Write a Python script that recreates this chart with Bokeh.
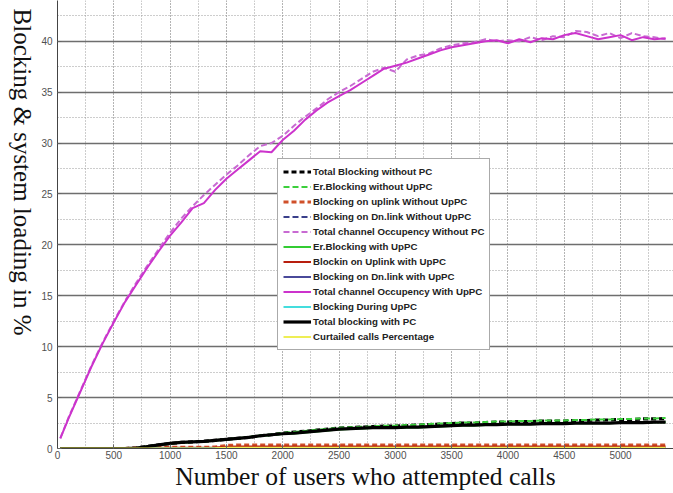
from bokeh.plotting import figure
from bokeh.layouts import row
from bokeh.models import Range1d, SingleIntervalTicker, Legend, LegendItem, Label
from bokeh.embed import file_html
from bokeh.resources import INLINE

users = [25, 100, 200, 300, 400, 500, 600, 700, 800, 900, 1000, 1100, 1200, 1300, 1400,
         1500, 1600, 1700, 1800, 1900, 2000, 2100, 2200, 2300, 2400, 2500, 2600, 2700,
         2800, 2900, 3000, 3100, 3200, 3300, 3400, 3500, 3600, 3700, 3800, 3900, 4000,
         4100, 4200, 4300, 4400, 4500, 4600, 4700, 4800, 4900, 5000, 5100, 5200, 5300, 5400]

occ_with = [1.0, 3.0, 5.5, 8.0, 10.3, 12.4, 14.4, 16.1, 17.8, 19.4, 20.9, 22.2, 23.6, 24.1,
            25.4, 26.5, 27.4, 28.3, 29.2, 29.1, 30.3, 31.2, 32.3, 33.2, 34.0, 34.6, 35.2,
            35.9, 36.6, 37.3, 37.6, 37.9, 38.3, 38.7, 39.1, 39.4, 39.6, 39.8, 40.0, 40.1,
            39.8, 40.2, 39.9, 40.3, 40.2, 40.6, 40.8, 40.5, 40.2, 40.4, 40.6, 40.1, 40.4,
            40.2, 40.3]
occ_without = [1.0, 3.1, 5.6, 8.1, 10.4, 12.5, 14.5, 16.3, 18.0, 19.6, 21.2, 22.6, 23.8,
               24.9, 25.9, 26.9, 27.8, 28.8, 29.7, 30.0, 30.7, 31.7, 32.6, 33.4, 34.3, 35.0,
               35.6, 36.3, 37.0, 37.4, 37.0, 38.2, 38.6, 38.8, 39.3, 39.6, 39.8, 39.9, 40.2,
               40.0, 40.1, 40.0, 40.4, 40.1, 40.5, 40.4, 41.0, 40.9, 40.5, 40.8, 40.3, 40.8,
               40.5, 40.4, 40.2]
total_with_pc = [0, 0, 0, 0, 0, 0, 0, 0.05, 0.2, 0.35, 0.5, 0.6, 0.65, 0.7, 0.8, 0.9, 1.0,
                 1.1, 1.25, 1.35, 1.45, 1.5, 1.6, 1.7, 1.8, 1.9, 1.95, 2.0, 2.05, 2.05, 2.05,
                 2.1, 2.1, 2.15, 2.2, 2.25, 2.3, 2.3, 2.35, 2.35, 2.4, 2.4, 2.4, 2.45, 2.45,
                 2.45, 2.5, 2.5, 2.5, 2.5, 2.55, 2.55, 2.55, 2.6, 2.6]
total_without_pc = [0, 0, 0, 0, 0, 0, 0, 0.05, 0.2, 0.35, 0.5, 0.6, 0.65, 0.7, 0.8, 0.9,
                    1.0, 1.1, 1.25, 1.35, 1.5, 1.6, 1.7, 1.8, 1.9, 2.0, 2.05, 2.1, 2.15, 2.2,
                    2.2, 2.25, 2.3, 2.35, 2.4, 2.45, 2.5, 2.5, 2.55, 2.6, 2.6, 2.65, 2.65,
                    2.7, 2.7, 2.7, 2.75, 2.75, 2.8, 2.8, 2.85, 2.85, 2.9, 2.9, 2.95]
er_without = [0, 0, 0, 0, 0, 0, 0, 0.05, 0.2, 0.35, 0.5, 0.6, 0.65, 0.72, 0.82, 0.92,
              1.02, 1.12, 1.28, 1.38, 1.52, 1.63, 1.73, 1.83, 1.93, 2.03, 2.08, 2.13, 2.18,
              2.23, 2.25, 2.3, 2.35, 2.4, 2.45, 2.5, 2.55, 2.55, 2.6, 2.65, 2.65, 2.7, 2.7,
              2.75, 2.75, 2.75, 2.8, 2.8, 2.85, 2.85, 2.9, 2.9, 2.95, 2.95, 3.0]
er_with = [0, 0, 0, 0, 0, 0, 0, 0.05, 0.18, 0.33, 0.48, 0.58, 0.63, 0.68, 0.78, 0.88, 0.98,
           1.08, 1.22, 1.32, 1.42, 1.47, 1.57, 1.67, 1.77, 1.87, 1.92, 1.97, 2.02, 2.02,
           2.02, 2.07, 2.07, 2.12, 2.17, 2.22, 2.27, 2.27, 2.32, 2.32, 2.37, 2.37, 2.37,
           2.42, 2.42, 2.42, 2.47, 2.47, 2.47, 2.47, 2.52, 2.52, 2.52, 2.57, 2.57]
up_without = [0, 0, 0, 0, 0, 0, 0, 0.05, 0.1, 0.12, 0.12, 0.12, 0.12, 0.12, 0.15, 0.3,
              0.35, 0.35, 0.35, 0.35, 0.35, 0.35, 0.35, 0.35, 0.35, 0.35, 0.35, 0.35, 0.35,
              0.35, 0.35, 0.35, 0.35, 0.35, 0.35, 0.35, 0.35, 0.35, 0.35, 0.35, 0.35, 0.35,
              0.35, 0.35, 0.35, 0.35, 0.35, 0.35, 0.35, 0.35, 0.35, 0.35, 0.35, 0.35, 0.35]
up_with = [0, 0, 0, 0, 0, 0, 0, 0, 0.05, 0.08, 0.08, 0.08, 0.08, 0.08, 0.1, 0.18, 0.2, 0.2,
           0.2, 0.2, 0.2, 0.2, 0.2, 0.2, 0.2, 0.2, 0.2, 0.2, 0.2, 0.2, 0.2, 0.2, 0.2, 0.2,
           0.2, 0.2, 0.2, 0.2, 0.2, 0.2, 0.2, 0.2, 0.2, 0.2, 0.2, 0.2, 0.2, 0.2, 0.2, 0.2,
           0.2, 0.2, 0.2, 0.2, 0.2]
dn_without = [0] * 55
dn_with = [0] * 55
during_uppc = [0] * 55
curtailed = [0, 0, 0, 0, 0, 0, 0, 0, 0, 0, 0, 0, 0, 0, 0.03, 0.08, 0.08, 0.08, 0.08, 0.08,
             0.08, 0.08, 0.08, 0.08, 0.08, 0.08, 0.08, 0.08, 0.08, 0.08, 0.08, 0.08, 0.08,
             0.08, 0.08, 0.08, 0.08, 0.08, 0.08, 0.08, 0.08, 0.08, 0.08, 0.08, 0.08, 0.08,
             0.08, 0.08, 0.08, 0.08, 0.08, 0.08, 0.08, 0.08, 0.08]

series = [
    ("Total Blocking without PC", total_without_pc, "#000000", "5 3", 3.2),
    ("Er.Blocking without UpPC", er_without, "#3ccf3c", "6 3", 2),
    ("Blocking on uplink Without UpPC", up_without, "#d0502a", "5 3", 3),
    ("Blocking on Dn.link Without UpPC", dn_without, "#3a3f8a", "6 3", 2),
    ("Total channel Occupency Without PC", occ_without, "#c86ad2", "6 3", 2),
    ("Er.Blocking with UpPC", er_with, "#33cc33", "solid", 2),
    ("Blockin on Uplink with UpPC", up_with, "#b81e0e", "solid", 2),
    ("Blocking on Dn.link with UpPC", dn_with, "#4a4a9a", "solid", 2),
    ("Total channel Occupency With UpPC", occ_with, "#cc33cc", "solid", 2),
    ("Blocking During UpPC", during_uppc, "#44dddd", "solid", 2),
    ("Total blocking with PC", total_with_pc, "#000000", "solid", 3.2),
    ("Curtailed calls Percentage", curtailed, "#eeee55", "solid", 2),
]

# ---- narrow side figure holding the y title (reads top to bottom)
side = figure(width=36, height=493, output_backend="svg", toolbar_location=None,
              x_range=Range1d(0, 1), y_range=Range1d(0, 1),
              x_axis_type=None, y_axis_type=None,
              min_border_left=0, min_border_right=0, min_border_top=0, min_border_bottom=0,
              background_fill_color="white", border_fill_color="white")
side.outline_line_color = None
side.xgrid.visible = False
side.ygrid.visible = False
side.add_layout(Label(x=0.62, y=0.617, text="Blocking & system loading in %",
                      angle=-90, angle_units="deg", text_align="center",
                      text_baseline="middle", text_font="Liberation Serif",
                      text_font_size="25px", text_color="#111111"))

# ---- main plot
p = figure(width=637, height=493, output_backend="svg", toolbar_location=None,
           x_range=Range1d(0, 5470), y_range=Range1d(0, 44.0),
           min_border_left=21, min_border_right=0, min_border_top=0, min_border_bottom=44,
           background_fill_color="white", border_fill_color="white")
p.outline_line_color = None

renderers = []
for label, vals, color, dash, w in series:
    r = p.line(users, vals, line_color=color, line_width=w, line_dash=dash)
    renderers.append((label, r))

xticker = SingleIntervalTicker(interval=500, num_minor_ticks=2)
yticker = SingleIntervalTicker(interval=5, num_minor_ticks=2)
p.xaxis.ticker = xticker
p.yaxis.ticker = yticker
p.xgrid.ticker = xticker
p.ygrid.ticker = yticker
for ax in (p.xaxis[0], p.yaxis[0]):
    ax.major_label_text_font = "Liberation Sans"
    ax.major_label_text_font_size = "10px"
    ax.major_label_text_color = "#505050"
    ax.axis_line_color = "#444444"
    ax.major_tick_in = 4
    ax.major_tick_out = 0
    ax.minor_tick_in = 0
    ax.minor_tick_out = 0
    ax.major_tick_line_color = "#666666"
p.yaxis.major_label_standoff = 5
p.xaxis.major_label_standoff = 2

p.xaxis.axis_label = "Number of users who attempted calls"
p.xaxis.axis_label_text_font = "Liberation Serif"
p.xaxis.axis_label_text_font_style = "normal"
p.xaxis.axis_label_text_font_size = "25.5px"
p.xaxis.axis_label_text_color = "#111111"
p.xaxis.axis_label_standoff = 0

p.ygrid.grid_line_color = "#6e6e6e"
p.ygrid.grid_line_width = 1.5
p.ygrid.minor_grid_line_color = "#9a9a9a"
p.ygrid.minor_grid_line_dash = "1 2"
p.xgrid.grid_line_color = "#9a9a9a"
p.xgrid.grid_line_dash = "1 2"
p.xgrid.minor_grid_line_color = "#9a9a9a"
p.xgrid.minor_grid_line_dash = "1 2"

legend = Legend(items=[LegendItem(label=l, renderers=[r]) for l, r in renderers],
                location=(220, 98))
legend.label_text_font = "Liberation Sans"
legend.label_text_font_style = "bold"
legend.label_text_font_size = "9.7px"
legend.label_text_color = "#222222"
legend.glyph_width = 28
legend.glyph_height = 15
legend.label_height = 15
legend.label_standoff = 2
legend.spacing = 0
legend.padding = 5
legend.margin = 0
legend.border_line_color = "#555555"
legend.border_line_width = 1
legend.background_fill_color = "white"
legend.background_fill_alpha = 1
p.add_layout(legend, "center")

layout = row(side, p, spacing=0)
open("out.html", "w").write(file_html(layout, INLINE))
